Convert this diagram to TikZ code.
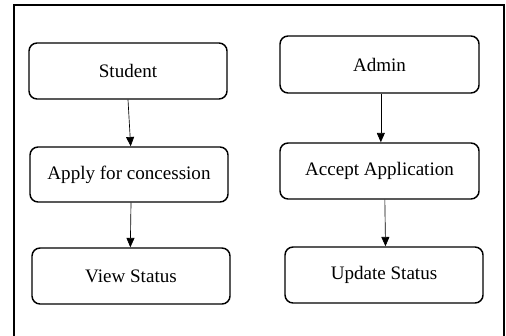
\documentclass[tikz,border=0pt]{standalone}
\usepackage{fontspec}
\setmainfont{Liberation Serif}
\usetikzlibrary{arrows.meta}
\begin{document}
\begin{tikzpicture}[x=0.75pt,y=-0.75pt,
  box/.style={draw,line width=1.1pt,rounded corners=6pt,inner sep=0pt,font=\fontsize{14.3}{16}\selectfont},
  arr/.style={draw,line width=0.5pt,-{Triangle[width=6pt,length=7pt]}}]
\useasboundingbox (0,0) rectangle (506,335);
\draw[line width=1.2pt] (14,340) -- (14,5) -- (504,5) -- (504,340);
\node[box,minimum width=198*0.75pt,minimum height=56*0.75pt] (student) at (128,71) {Student};
\node[box,minimum width=198*0.75pt,minimum height=55*0.75pt] (apply) at (129,174.5) {Apply for concession};
\node[box,minimum width=198*0.75pt,minimum height=56*0.75pt] (view) at (131,276) {View Status};
\node[box,minimum width=199*0.75pt,minimum height=57*0.75pt] (admin) at (379.5,64.5) {Admin};
\node[box,minimum width=199*0.75pt,minimum height=56*0.75pt] (accept) at (379.5,171) {Accept Application};
\node[box,minimum width=198*0.75pt,minimum height=56*0.75pt] (update) at (384,275) {Update Status};
\draw[arr] (student.south) -- ([xshift=2pt]student.south |- apply.north);
\draw[arr] ([xshift=1.5pt]apply.south) -- ([xshift=1pt]apply.south |- view.north);
\draw[arr] ([xshift=1pt]admin.south) -- ([xshift=1pt]admin.south |- accept.north);
\draw[arr] ([xshift=4pt]accept.south) -- ([xshift=4.5pt]accept.south |- update.north);
\end{tikzpicture}
\end{document}
